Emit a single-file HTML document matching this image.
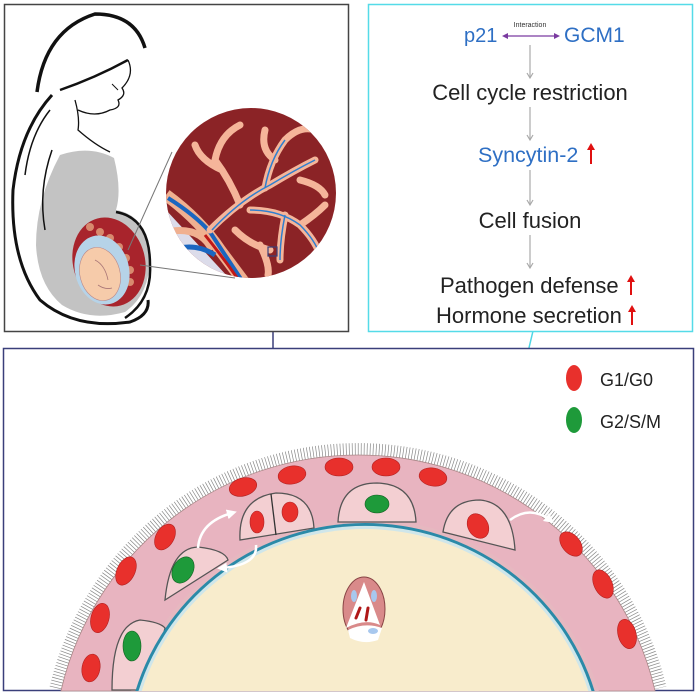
<!DOCTYPE html>
<html><head><meta charset="utf-8">
<style>
html,body{margin:0;padding:0;background:#fff;width:698px;height:694px;overflow:hidden;}
svg{display:block;}
text{font-family:"Liberation Sans",Arial,sans-serif;}
</style></head>
<body>
<svg width="698" height="694" viewBox="0 0 698 694" xmlns="http://www.w3.org/2000/svg">
<defs>
<clipPath id="circ"><circle cx="251" cy="193" r="85"/></clipPath>
<marker id="wa" markerWidth="10" markerHeight="10" refX="5" refY="5" orient="auto" markerUnits="userSpaceOnUse"><path d="M0,0 L10,5 L0,10 z" fill="#fff"/></marker>
</defs>

<line x1="273" y1="258" x2="273" y2="349" stroke="#3a3f7a" stroke-width="1.5"/>
<line x1="533" y1="331" x2="490" y2="512" stroke="#4fd6e4" stroke-width="1.5"/>

<!-- top-left panel -->
<rect x="4.5" y="4.5" width="344" height="327" fill="#fff" stroke="#444" stroke-width="1.5"/>
<path d="M60,155 Q90,145 114,158 Q122,190 116,210 Q140,214 148,240 Q156,290 125,312 Q90,322 62,305 Q38,285 36,245 Q36,200 60,155 Z" fill="#c3c3c3"/>
<path d="M37,92 Q45,30 95,14 Q135,14 145,48" fill="none" stroke="#111" stroke-width="3.5"/>
<path d="M60,90 Q95,78 128,60" fill="none" stroke="#111" stroke-width="2.5"/>
<path d="M128,60 Q135,75 122,88 Q127,95 118,100 Q122,108 110,110 Q95,118 78,110" fill="none" stroke="#111" stroke-width="1.3"/>
<path d="M112,84 L118,90" stroke="#111" stroke-width="1"/>
<path d="M75,100 Q80,118 78,130 Q95,145 110,152" fill="none" stroke="#111" stroke-width="1.3"/>
<path d="M52,95 Q20,130 13,190 Q10,260 40,300 Q75,330 130,322 Q150,315 148,300" fill="none" stroke="#111" stroke-width="3"/>
<path d="M50,110 Q30,135 25,175" fill="none" stroke="#111" stroke-width="1.5"/>
<path d="M52,150 Q38,190 45,230" fill="none" stroke="#111" stroke-width="1.5"/>
<path d="M116,212 Q150,218 150,265 Q152,300 125,318" fill="none" stroke="#111" stroke-width="2.5"/>
<ellipse cx="109" cy="262" rx="36" ry="45" transform="rotate(-15 109 262)" fill="#a8242c"/>
<g fill="#d88a6e">
<circle cx="90" cy="227" r="4"/><circle cx="100" cy="232" r="4"/><circle cx="110" cy="238" r="4"/><circle cx="119" cy="247" r="4"/><circle cx="126" cy="258" r="4"/><circle cx="130" cy="270" r="4"/><circle cx="130" cy="282" r="4"/>
</g>
<ellipse cx="102" cy="270" rx="27" ry="35" transform="rotate(-15 102 270)" fill="#b6d3e8"/>
<ellipse cx="100" cy="274" rx="20" ry="27" transform="rotate(-15 100 274)" fill="#f6cbaa" stroke="#b88" stroke-width="0.6"/>
<path d="M95,260 Q105,265 108,280 M98,285 Q105,290 112,288" fill="none" stroke="#a77" stroke-width="0.8"/>
<line x1="128" y1="250" x2="172" y2="152" stroke="#777" stroke-width="1"/>
<line x1="140" y1="265" x2="235" y2="278" stroke="#777" stroke-width="1"/>
<circle cx="251" cy="193" r="85" fill="#8b2326"/>
<g clip-path="url(#circ)">
<path d="M166,210 L240,290 L166,290 Z" fill="#dcdcea"/>
<path d="M166,195 Q200,220 220,250 Q235,270 250,290" fill="none" stroke="#f0b090" stroke-width="12"/>
<path d="M166,232 Q200,225 212,250" fill="none" stroke="#f0b090" stroke-width="7"/>
<path d="M168,198 Q195,215 210,232 Q225,255 245,285" fill="none" stroke="#1a66c0" stroke-width="4"/>
<path d="M172,250 Q195,242 215,255" fill="none" stroke="#1a66c0" stroke-width="5"/>
<path d="M205,235 Q225,260 240,282" fill="none" stroke="#c01818" stroke-width="3"/>
<g fill="none" stroke="#f5b59a" stroke-width="7" stroke-linecap="round">
<path d="M210,230 Q240,200 270,185 Q295,170 315,160"/>
<path d="M240,205 Q230,180 215,160 M222,170 Q200,160 195,145 M215,160 Q220,135 240,125"/>
<path d="M265,188 Q270,160 285,140 M285,140 Q300,125 315,130 M275,160 Q260,150 265,130"/>
<path d="M250,210 Q280,210 300,225 Q315,240 320,255 M285,215 Q280,240 280,260 M300,225 Q315,215 325,205"/>
<path d="M235,230 Q250,245 270,250 M260,245 Q270,265 268,275"/>
<path d="M300,180 Q320,185 325,195"/>
</g>
<g fill="none" stroke="#2f7fd0" stroke-width="1.5">
<path d="M212,230 Q240,200 270,185 Q295,170 315,160"/>
<path d="M265,188 Q270,160 285,140"/>
<path d="M250,210 Q280,210 300,225 Q315,240 320,255"/>
<path d="M285,215 Q280,240 280,260"/>
</g>
</g>
<rect x="268" y="247" width="9" height="9" fill="none" stroke="#3a3f7a" stroke-width="1.2"/>

<!-- top-right panel -->
<rect x="368.5" y="4.5" width="324" height="327" fill="#fff" stroke="#55dbe8" stroke-width="1.5"/>
<text x="464" y="42" font-size="20" fill="#2e6fc4">p21</text>
<text x="564" y="42" font-size="21" fill="#2e6fc4">GCM1</text>
<text x="530" y="27" font-size="7" fill="#333" text-anchor="middle">Interaction</text>
<line x1="504" y1="36" x2="558" y2="36" stroke="#7a3aa0" stroke-width="1.2"/>
<path d="M502,36 l6,-3 v6 z M560,36 l-6,-3 v6 z" fill="#7a3aa0"/>
<g stroke="#aaa" stroke-width="1.2" fill="none">
<line x1="530" y1="45" x2="530" y2="78"/><path d="M527,73 l3,5 l3,-5"/>
<line x1="530" y1="107" x2="530" y2="140"/><path d="M527,135 l3,5 l3,-5"/>
<line x1="530" y1="170" x2="530" y2="205"/><path d="M527,200 l3,5 l3,-5"/>
<line x1="530" y1="235" x2="530" y2="268"/><path d="M527,263 l3,5 l3,-5"/>
</g>
<text x="530" y="100" font-size="22" fill="#222" text-anchor="middle">Cell cycle restriction</text>
<text x="478" y="162" font-size="21.5" fill="#2e6fc4">Syncytin-2</text>
<text x="530" y="228" font-size="22" fill="#222" text-anchor="middle">Cell fusion</text>
<text x="440" y="293" font-size="22" fill="#222">Pathogen defense</text>
<text x="436" y="323" font-size="22" fill="#222">Hormone secretion</text>
<g stroke="#e01010" stroke-width="2" fill="#e01010">
<line x1="591" y1="164" x2="591" y2="148"/><path d="M587,150 l4,-7 l4,7z" stroke="none"/>
<line x1="631" y1="295" x2="631" y2="280"/><path d="M627,282 l4,-7 l4,7z" stroke="none"/>
<line x1="632" y1="325" x2="632" y2="310"/><path d="M628,312 l4,-7 l4,7z" stroke="none"/>
</g>

<!-- bottom panel -->
<rect x="3.5" y="348.5" width="690" height="342" fill="#fff" stroke="#3a3f7a" stroke-width="1.5"/>
<path d="M56.5,688 A310 310 0 0 1 659.5,688" fill="none" stroke="#888" stroke-width="14" stroke-dasharray="0.7 2.3"/>
<path d="M60.9,691 A305 305 0 0 1 655.1,691 Z" fill="#e8b4c0" stroke="#a88" stroke-width="0.8"/>
<path d="M131.2,691 A244 241 0 0 1 598.8,691 Z" fill="#e6b8c0"/>
<g fill="#f3cfd2" stroke="#555" stroke-width="1.3">
<path d="M240,540 Q238,498 276,493 Q312,493 314,528 Z"/>
<path d="M338,522 Q340,483 377,483 Q414,484 416,522 Z"/>
<path d="M443,532 Q448,500 480,500 Q512,503 515,550 Z"/>
<path d="M165,600 Q170,548 198,547 Q225,550 228,560 Z"/>
<path d="M112,690 Q112,625 140,620 Q160,622 165,628 L150,690 Z"/>
</g>
<line x1="271" y1="494" x2="276" y2="535" stroke="#333" stroke-width="1.3"/>
<path d="M135.4,691 A240 237 0 0 1 594.6,691 Z" fill="#2a8aa8"/>
<path d="M138.5,691 A237 234 0 0 1 591.5,691 Z" fill="#cfe6ea"/>
<path d="M141.7,691 A234 231 0 0 1 588.3,691 Z" fill="#f8eccc"/>
<g fill="#e8302c" stroke="#b02020" stroke-width="0.6">
<ellipse cx="243" cy="487" rx="14" ry="9" transform="rotate(-15 243 487)"/>
<ellipse cx="292" cy="475" rx="14" ry="9" transform="rotate(-10 292 475)"/>
<ellipse cx="339" cy="467" rx="14" ry="9"/>
<ellipse cx="386" cy="467" rx="14" ry="9"/>
<ellipse cx="433" cy="477" rx="14" ry="9" transform="rotate(10 433 477)"/>
<ellipse cx="165" cy="537" rx="9" ry="14" transform="rotate(30 165 537)"/>
<ellipse cx="126" cy="571" rx="9" ry="15" transform="rotate(25 126 571)"/>
<ellipse cx="100" cy="618" rx="9" ry="15" transform="rotate(15 100 618)"/>
<ellipse cx="571" cy="544" rx="9" ry="14" transform="rotate(-40 571 544)"/>
<ellipse cx="603" cy="584" rx="9" ry="15" transform="rotate(-25 603 584)"/>
<ellipse cx="627" cy="634" rx="9" ry="15" transform="rotate(-15 627 634)"/>
<ellipse cx="91" cy="668" rx="9" ry="14" transform="rotate(10 91 668)"/>
<ellipse cx="257" cy="522" rx="7" ry="11"/>
<ellipse cx="290" cy="512" rx="8" ry="10"/>
<ellipse cx="478" cy="526" rx="10" ry="13" transform="rotate(-30 478 526)"/>
</g>
<g fill="#1e9a3a" stroke="#106020" stroke-width="0.6">
<ellipse cx="377" cy="504" rx="12" ry="9"/>
<ellipse cx="183" cy="570" rx="10" ry="14" transform="rotate(30 183 570)"/>
<ellipse cx="132" cy="646" rx="9" ry="15"/>
</g>
<g fill="none" stroke="#fff" stroke-width="2.5">
<path d="M198,548 Q200,522 232,513" marker-end="url(#wa)"/>
<path d="M256,545 Q258,565 222,568" marker-end="url(#wa)"/>
<path d="M510,520 Q530,505 550,520" marker-end="url(#wa)"/>
</g>
<ellipse cx="364" cy="609" rx="21" ry="32" fill="#d98a8a" stroke="#844" stroke-width="1"/>
<path d="M364,582 L380,625 Q365,618 346,628 Z" fill="#fff"/>
<path d="M348,630 Q365,622 382,628 L378,640 Q364,645 350,638 Z" fill="#fff"/>
<ellipse cx="354" cy="596" rx="3" ry="6" fill="#a8c8ee"/>
<ellipse cx="374" cy="596" rx="3" ry="6" fill="#a8c8ee"/>
<ellipse cx="373" cy="631" rx="5" ry="3" fill="#a8c8ee"/>
<path d="M360,608 l-4,10 M368,608 l-2,12" stroke="#b01818" stroke-width="3" stroke-linecap="round"/>
<ellipse cx="574" cy="378" rx="8" ry="13" fill="#e8302c"/>
<text x="600" y="386" font-size="18" fill="#222">G1/G0</text>
<ellipse cx="574" cy="420" rx="8" ry="13" fill="#1e9a3a"/>
<text x="600" y="428" font-size="18" fill="#222">G2/S/M</text>
</svg>
</body></html>
